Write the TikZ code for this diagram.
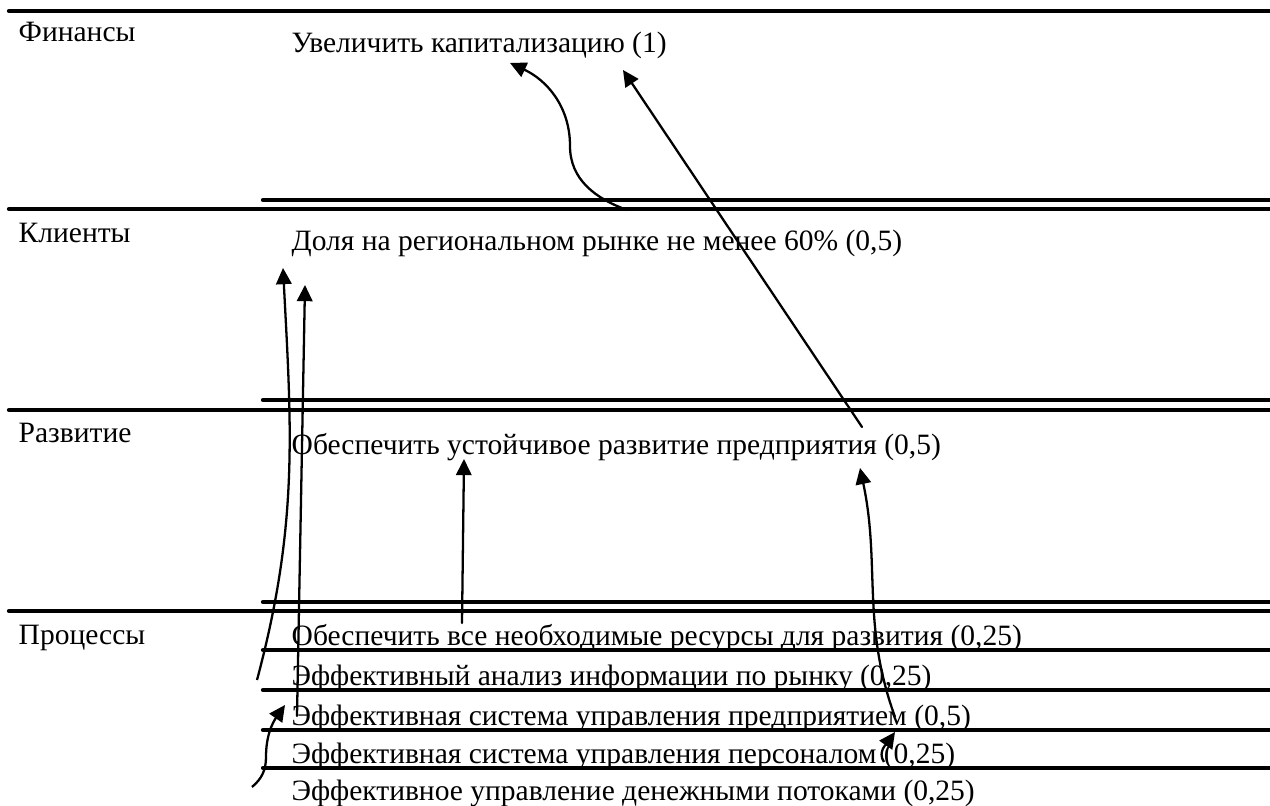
\documentclass[tikz,border=0pt]{standalone}
\usepackage{fontspec}
\setmainfont{Liberation Serif}
\usepackage{tkz-euclide}
\usetikzlibrary{arrows.meta}

\begin{document}
\begin{tikzpicture}[scale=1,
    rule/.style={line width=1.2pt},
    arr/.style={line width=0.65pt,-{Triangle[length=4.6pt,width=4.4pt]}},
    txt/.style={anchor=base west,inner sep=0pt,font=\fontsize{8.4}{10}\selectfont}]
            % 1. ФИКСИРОВАННАЯ РАМКА
            % Задаёт размер картинки вместе с полями.
            \useasboundingbox (0,0) rectangle (12.7,8.06);

            % --- ТОЧКИ ЛИНИЙ (левый конец / правый конец) ---
            \tkzDefPoints{0.09/7.95/L0,12.7/7.95/R0}
            \tkzDefPoints{2.63/6.06/S1,12.7/6.06/T1,0.09/5.97/L1,12.7/5.97/R1}
            \tkzDefPoints{2.63/4.06/S2,12.7/4.06/T2,0.09/3.96/L2,12.7/3.96/R2}
            \tkzDefPoints{2.63/2.04/S3,12.7/2.04/T3,0.09/1.95/L3,12.7/1.95/R3}
            \tkzDefPoints{2.63/1.56/Pa,12.7/1.56/Qa,2.63/1.16/Pb,12.7/1.16/Qb}
            \tkzDefPoints{2.63/0.76/Pc,12.7/0.76/Qc,2.63/0.38/Pd,12.7/0.38/Qd}

            % --- ТОЧКИ СТРЕЛОК (t = начало, h = остриё) ---
            \tkzDefPoints{6.27/5.96/tA,5.70/6.60/mA,5.10/7.43/hA}
            \tkzDefPoints{8.62/3.79/tB,6.23/7.36/hB}
            \tkzDefPoints{2.57/1.26/tC,2.83/5.38/hC}
            \tkzDefPoints{2.97/0.90/tD,3.05/5.21/hD}
            \tkzDefPoints{4.62/1.83/tE,4.64/3.47/hE}
            \tkzDefPoints{8.95/0.89/tF,8.60/3.38/hF}
            \tkzDefPoints{2.52/0.19/tG,2.66/0.49/mG,2.85/1.01/hG}
            \tkzDefPoints{8.84/0.44/tH,8.95/0.74/hH}

            % --- ЛИНИИ ПЕРСПЕКТИВ ---
            \tkzDrawSegments[rule](L0,R0 S1,T1 L1,R1 S2,T2 L2,R2 S3,T3 L3,R3)
            \tkzDrawSegments[rule](Pa,Qa Pb,Qb Pc,Qc Pd,Qd)

            % --- ПЕРСПЕКТИВЫ ---
            \node[txt] (fin)  at (0.18,7.64) {Финансы};
            \node[txt] (cli)  at (0.18,5.63) {Клиенты};
            \node[txt] (dev)  at (0.18,3.63) {Развитие};
            \node[txt] (proc) at (0.18,1.61) {Процессы};

            % --- ЦЕЛИ ---
            \node[txt] (capital)  at (2.91,7.53) {Увеличить капитализацию (1)};
            \node[txt] (share)    at (2.91,5.55) {Доля на региональном рынке не менее 60\% (0,5)};
            \node[txt] (growth)   at (2.91,3.51) {Обеспечить устойчивое развитие предприятия (0,5)};
            \node[txt] (res)      at (2.91,1.60) {Обеспечить все необходимые ресурсы для развития (0,25)};
            \node[txt] (analysis) at (2.91,1.20) {Эффективный анализ информации по рынку (0,25)};
            \node[txt] (mgmt)     at (2.91,0.80) {Эффективная система управления предприятием (0,5)};
            \node[txt] (staff)    at (2.91,0.42) {Эффективная система управления персоналом (0,25)};
            \node[txt] (cash)     at (2.91,0.05) {Эффективное управление денежными потоками (0,25)};

            % --- СВЯЗИ ---
            \draw[arr] (tA) to[out=160,in=-90] (mA) to[out=90,in=-25] (hA);
            \tkzDrawSegment[arr](tB,hB)
            \draw[arr] (tC) to[out=75,in=-87] (hC);
            \tkzDrawSegment[arr](tD,hD)
            \tkzDrawSegment[arr](tE,hE)
            \draw[arr] (tF) to[out=110,in=-78] (hF);
            \draw[arr] (tG) to[out=40,in=-90] (mG) to[out=90,in=-125] (hG);
            \draw[arr] (tH) to[out=125,in=-125] (hH);

\end{tikzpicture}
\end{document}
